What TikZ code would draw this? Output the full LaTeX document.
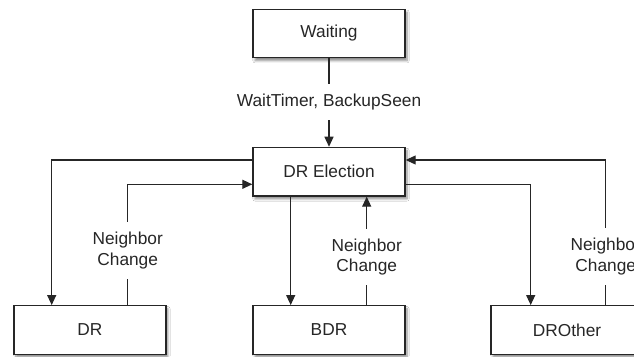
\documentclass[tikz,border=0pt]{standalone}
\usepackage{fontspec}
\setmainfont{Liberation Sans}
\usetikzlibrary{arrows.meta,shadows.blur}
\definecolor{ink}{HTML}{262626}
\begin{document}
\begin{tikzpicture}[x=1pt,y=1pt,
  state/.style={draw=ink, line width=1.4pt, fill=white, minimum width=152pt,
    minimum height=48.5pt, inner sep=0pt, text=ink,
    font=\fontsize{17.3}{20.7}\selectfont,
    blur shadow={shadow xshift=2pt, shadow yshift=-3pt, shadow blur steps=8, shadow opacity=45}},
  conn/.style={draw=ink, line width=1.2pt, -{Triangle[length=10pt,width=9pt]}},
  lab/.style={fill=white, text=ink, align=center, inner xsep=4pt, inner ysep=10pt,
    font=\fontsize{17.3}{20.7}\selectfont}]
\clip (0,0) rectangle (634,356);
\fill[white] (0,0) rectangle (634,356);

\node[state] (W) at (329,322.5) {Waiting};
\node[state] (E) at (329,184.3) {DR Election};
\node[state] (DR) at (89.9,26) {DR};
\node[state] (BDR) at (329,26) {BDR};
\node[state] (DRO) at (567,26) {DROther};

\draw[conn] (W.south) -- node[lab, pos=0.494] {WaitTimer, BackupSeen} (E.north);

\draw[conn] ([yshift=11.7pt]E.west) -| ([xshift=-38.2pt]DR.north);
\draw[conn] ([xshift=37.8pt]DR.north) |- node[lab, pos=0.226] {Neighbor\\Change} ([yshift=-12.6pt]E.west);

\draw[conn] ([xshift=-38.3pt]E.south) -- ([xshift=-38.3pt]BDR.north);
\draw[conn] ([xshift=37.7pt]BDR.north) -- node[lab, pos=0.444] {Neighbor\\Change} ([xshift=37.7pt]E.south);

\draw[conn] ([yshift=-12.6pt]E.east) -| ([xshift=-36.3pt]DRO.north);
\draw[conn] ([xshift=38.7pt]DRO.north) |- node[lab, pos=0.167] {Neighbor\\Change} ([yshift=11.7pt]E.east);
\end{tikzpicture}
\end{document}
